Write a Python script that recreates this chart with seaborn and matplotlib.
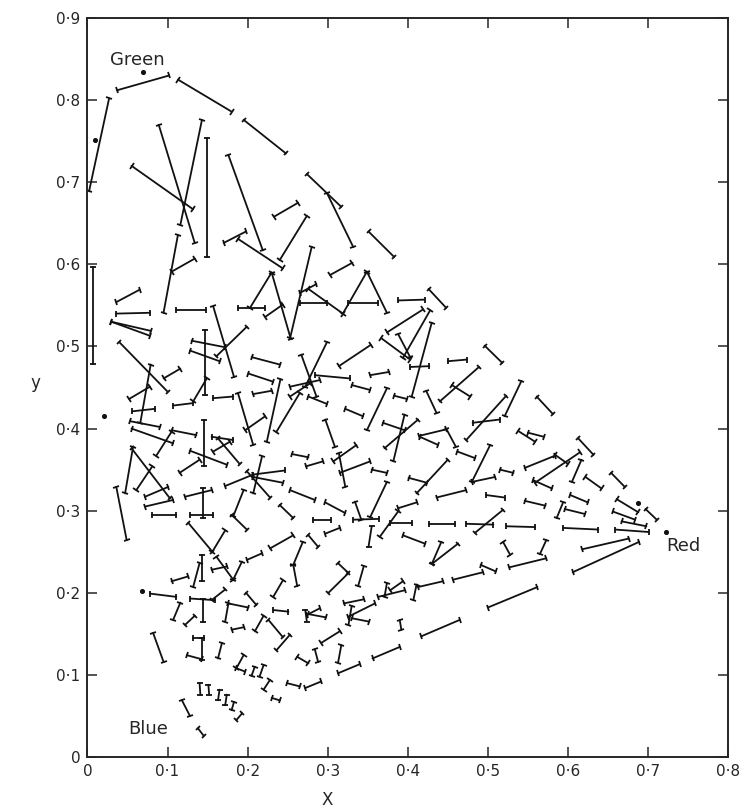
import numpy as np
import pandas as pd
import matplotlib
matplotlib.use("Agg")
import matplotlib.pyplot as plt
from matplotlib.markers import MarkerStyle
from matplotlib.transforms import Affine2D
from matplotlib.ticker import FuncFormatter
import seaborn as sns

# segment end points, chromaticity (x, y)
x_start = [0.037, 0.113, 0.195, 0.002, 0.055, 0.089, 0.143, 0.149, 0.176, 0.233,
           0.240, 0.170, 0.188, 0.095, 0.105, 0.274, 0.299, 0.351, 0.280, 0.303,
           0.007, 0.036, 0.036, 0.030, 0.030, 0.040, 0.111, 0.157, 0.188, 0.203,
           0.230, 0.222, 0.147, 0.130, 0.128, 0.161, 0.132, 0.107, 0.095, 0.052,
           0.079, 0.056, 0.053, 0.157, 0.188, 0.205, 0.201, 0.207, 0.241, 0.197,
           0.236, 0.055, 0.105, 0.105, 0.145, 0.128, 0.115, 0.155, 0.157, 0.163,
           0.057, 0.055, 0.081, 0.072, 0.072, 0.036, 0.122, 0.144, 0.080, 0.128,
           0.172, 0.207, 0.199, 0.218, 0.207, 0.195, 0.240, 0.265, 0.265, 0.276,
           0.319, 0.349, 0.326, 0.388, 0.426, 0.374, 0.367, 0.388, 0.428, 0.430,
           0.403, 0.314, 0.353, 0.450, 0.496, 0.267, 0.299, 0.284, 0.253, 0.276,
           0.330, 0.374, 0.383, 0.423, 0.440, 0.455, 0.322, 0.297, 0.369, 0.396,
           0.413, 0.414, 0.448, 0.415, 0.473, 0.481, 0.255, 0.273, 0.307, 0.315,
           0.314, 0.355, 0.462, 0.503, 0.480, 0.401, 0.411, 0.436, 0.498, 0.253,
           0.297, 0.334, 0.353, 0.388, 0.542, 0.561, 0.538, 0.550, 0.613, 0.546,
           0.584, 0.615, 0.557, 0.617, 0.622, 0.654, 0.515, 0.546, 0.603, 0.594,
           0.596, 0.661, 0.697, 0.656, 0.667, 0.659, 0.523, 0.594, 0.519, 0.573,
           0.527, 0.618, 0.606, 0.500, 0.282, 0.332, 0.388, 0.378, 0.426, 0.473,
           0.484, 0.297, 0.276, 0.269, 0.257, 0.355, 0.394, 0.442, 0.430, 0.491,
           0.313, 0.326, 0.345, 0.320, 0.330, 0.326, 0.330, 0.363, 0.374, 0.378,
           0.411, 0.413, 0.457, 0.272, 0.276, 0.274, 0.390, 0.417, 0.292, 0.356,
           0.284, 0.317, 0.313, 0.262, 0.272, 0.126, 0.156, 0.180, 0.228, 0.143,
           0.140, 0.155, 0.161, 0.182, 0.199, 0.105, 0.078, 0.128, 0.144, 0.172,
           0.116, 0.122, 0.176, 0.176, 0.198, 0.180, 0.220, 0.226, 0.232, 0.253,
           0.244, 0.082, 0.132, 0.143, 0.124, 0.168, 0.195, 0.186, 0.209, 0.220,
           0.228, 0.230, 0.140, 0.151, 0.165, 0.174, 0.183, 0.193, 0.118, 0.138,
           0.249, 0.278]
y_start = [0.812, 0.825, 0.776, 0.689, 0.720, 0.770, 0.776, 0.754, 0.733, 0.658,
           0.605, 0.626, 0.631, 0.541, 0.591, 0.710, 0.687, 0.640, 0.621, 0.587,
           0.597, 0.554, 0.540, 0.530, 0.530, 0.505, 0.544, 0.549, 0.547, 0.547,
           0.590, 0.536, 0.520, 0.507, 0.495, 0.488, 0.433, 0.428, 0.461, 0.436,
           0.478, 0.421, 0.409, 0.437, 0.443, 0.487, 0.467, 0.442, 0.460, 0.398,
           0.396, 0.400, 0.398, 0.396, 0.410, 0.373, 0.346, 0.390, 0.372, 0.388,
           0.378, 0.376, 0.354, 0.317, 0.305, 0.329, 0.317, 0.327, 0.295, 0.295,
           0.330, 0.344, 0.348, 0.366, 0.341, 0.325, 0.307, 0.565, 0.553, 0.570,
           0.540, 0.591, 0.553, 0.556, 0.570, 0.517, 0.510, 0.515, 0.544, 0.529,
           0.475, 0.476, 0.465, 0.482, 0.501, 0.490, 0.505, 0.465, 0.451, 0.439,
           0.453, 0.449, 0.440, 0.446, 0.433, 0.453, 0.424, 0.411, 0.407, 0.417,
           0.411, 0.391, 0.400, 0.390, 0.386, 0.407, 0.369, 0.354, 0.360, 0.346,
           0.370, 0.350, 0.372, 0.380, 0.335, 0.340, 0.321, 0.316, 0.319, 0.325,
           0.310, 0.311, 0.292, 0.303, 0.458, 0.439, 0.397, 0.395, 0.388, 0.352,
           0.368, 0.371, 0.337, 0.362, 0.341, 0.346, 0.350, 0.312, 0.319, 0.310,
           0.302, 0.314, 0.302, 0.299, 0.287, 0.277, 0.281, 0.279, 0.262, 0.264,
           0.231, 0.253, 0.225, 0.182, 0.289, 0.289, 0.299, 0.285, 0.284, 0.284,
           0.273, 0.272, 0.270, 0.262, 0.234, 0.281, 0.270, 0.262, 0.235, 0.234,
           0.236, 0.224, 0.232, 0.187, 0.184, 0.171, 0.169, 0.195, 0.212, 0.203,
           0.210, 0.207, 0.216, 0.179, 0.174, 0.173, 0.167, 0.147, 0.139, 0.120,
           0.131, 0.136, 0.102, 0.122, 0.084, 0.285, 0.250, 0.295, 0.254, 0.246,
           0.236, 0.228, 0.244, 0.216, 0.240, 0.214, 0.199, 0.193, 0.193, 0.204,
           0.188, 0.161, 0.187, 0.187, 0.200, 0.155, 0.172, 0.167, 0.179, 0.149,
           0.215, 0.151, 0.145, 0.145, 0.124, 0.139, 0.124, 0.108, 0.110, 0.112,
           0.094, 0.072, 0.090, 0.088, 0.082, 0.076, 0.067, 0.053, 0.069, 0.035,
           0.090, 0.455]
x_end = [0.102, 0.180, 0.248, 0.027, 0.132, 0.134, 0.116, 0.149, 0.219, 0.263,
         0.274, 0.198, 0.244, 0.113, 0.134, 0.317, 0.332, 0.383, 0.253, 0.331,
         0.007, 0.065, 0.078, 0.079, 0.078, 0.100, 0.148, 0.183, 0.222, 0.230,
         0.254, 0.244, 0.147, 0.172, 0.165, 0.199, 0.149, 0.132, 0.116, 0.078,
         0.066, 0.084, 0.090, 0.182, 0.207, 0.240, 0.232, 0.230, 0.224, 0.222,
         0.265, 0.107, 0.136, 0.086, 0.145, 0.174, 0.140, 0.182, 0.178, 0.190,
         0.047, 0.103, 0.061, 0.101, 0.107, 0.049, 0.155, 0.144, 0.110, 0.157,
         0.207, 0.247, 0.228, 0.207, 0.244, 0.182, 0.257, 0.286, 0.299, 0.319,
         0.349, 0.374, 0.363, 0.421, 0.448, 0.419, 0.403, 0.403, 0.394, 0.405,
         0.427, 0.354, 0.377, 0.474, 0.518, 0.286, 0.272, 0.328, 0.290, 0.299,
         0.353, 0.349, 0.399, 0.436, 0.489, 0.478, 0.344, 0.309, 0.396, 0.382,
         0.371, 0.448, 0.460, 0.438, 0.523, 0.515, 0.276, 0.294, 0.336, 0.353,
         0.322, 0.374, 0.484, 0.480, 0.509, 0.424, 0.450, 0.473, 0.521, 0.284,
         0.322, 0.342, 0.374, 0.411, 0.521, 0.581, 0.559, 0.570, 0.632, 0.584,
         0.600, 0.559, 0.580, 0.605, 0.642, 0.671, 0.532, 0.572, 0.625, 0.586,
         0.621, 0.688, 0.711, 0.684, 0.698, 0.701, 0.559, 0.638, 0.528, 0.565,
         0.573, 0.676, 0.689, 0.562, 0.304, 0.364, 0.365, 0.405, 0.459, 0.507,
         0.519, 0.315, 0.288, 0.257, 0.262, 0.351, 0.421, 0.430, 0.463, 0.510,
         0.326, 0.301, 0.338, 0.345, 0.326, 0.359, 0.351, 0.396, 0.371, 0.394,
         0.407, 0.444, 0.494, 0.274, 0.298, 0.290, 0.392, 0.465, 0.315, 0.390,
         0.288, 0.313, 0.340, 0.276, 0.292, 0.156, 0.172, 0.199, 0.257, 0.143,
         0.132, 0.174, 0.182, 0.193, 0.218, 0.126, 0.111, 0.159, 0.144, 0.155,
         0.107, 0.134, 0.172, 0.201, 0.211, 0.195, 0.209, 0.244, 0.251, 0.236,
         0.232, 0.095, 0.145, 0.143, 0.143, 0.163, 0.186, 0.197, 0.205, 0.215,
         0.220, 0.240, 0.141, 0.152, 0.163, 0.172, 0.180, 0.186, 0.128, 0.145,
         0.265, 0.253]
y_end = [0.830, 0.786, 0.735, 0.802, 0.667, 0.626, 0.648, 0.609, 0.617, 0.675,
         0.659, 0.640, 0.595, 0.636, 0.607, 0.670, 0.621, 0.609, 0.510, 0.602,
         0.479, 0.569, 0.541, 0.519, 0.513, 0.445, 0.544, 0.463, 0.547, 0.590,
         0.509, 0.551, 0.441, 0.499, 0.482, 0.524, 0.461, 0.431, 0.473, 0.451,
         0.407, 0.424, 0.402, 0.439, 0.380, 0.478, 0.457, 0.446, 0.384, 0.415,
         0.443, 0.382, 0.392, 0.367, 0.354, 0.356, 0.362, 0.386, 0.384, 0.357,
         0.321, 0.315, 0.325, 0.329, 0.313, 0.264, 0.325, 0.291, 0.295, 0.295,
         0.344, 0.349, 0.316, 0.321, 0.334, 0.293, 0.291, 0.576, 0.553, 0.540,
         0.591, 0.541, 0.553, 0.557, 0.547, 0.545, 0.484, 0.487, 0.486, 0.439,
         0.476, 0.502, 0.469, 0.484, 0.480, 0.439, 0.451, 0.461, 0.459, 0.430,
         0.447, 0.398, 0.436, 0.419, 0.475, 0.439, 0.415, 0.378, 0.398, 0.360,
         0.376, 0.399, 0.378, 0.380, 0.440, 0.411, 0.365, 0.360, 0.380, 0.360,
         0.329, 0.346, 0.364, 0.335, 0.341, 0.334, 0.362, 0.325, 0.316, 0.313,
         0.297, 0.289, 0.335, 0.310, 0.415, 0.418, 0.384, 0.390, 0.368, 0.367,
         0.357, 0.334, 0.327, 0.335, 0.327, 0.329, 0.346, 0.306, 0.310, 0.291,
         0.296, 0.298, 0.289, 0.289, 0.281, 0.274, 0.280, 0.277, 0.246, 0.247,
         0.242, 0.266, 0.262, 0.207, 0.289, 0.290, 0.268, 0.285, 0.284, 0.283,
         0.301, 0.279, 0.256, 0.234, 0.208, 0.256, 0.260, 0.235, 0.260, 0.226,
         0.224, 0.200, 0.208, 0.192, 0.161, 0.187, 0.165, 0.203, 0.195, 0.214,
         0.191, 0.214, 0.225, 0.165, 0.170, 0.181, 0.155, 0.167, 0.153, 0.134,
         0.116, 0.115, 0.113, 0.114, 0.092, 0.250, 0.276, 0.277, 0.270, 0.214,
         0.207, 0.232, 0.216, 0.238, 0.248, 0.220, 0.195, 0.191, 0.165, 0.191,
         0.167, 0.172, 0.165, 0.182, 0.185, 0.158, 0.153, 0.146, 0.177, 0.130,
         0.195, 0.116, 0.145, 0.118, 0.119, 0.120, 0.108, 0.104, 0.099, 0.098,
         0.082, 0.069, 0.076, 0.076, 0.069, 0.063, 0.057, 0.045, 0.050, 0.026,
         0.086, 0.439]

# isolated points (spectrum ends and odd dots)
dot_x = [0.009, 0.069, 0.021, 0.068, 0.688, 0.722]
dot_y = [0.752, 0.834, 0.415, 0.202, 0.309, 0.274]

ticks_x = [0.0, 0.1, 0.2, 0.3, 0.4, 0.5, 0.6, 0.7, 0.8]
ticks_y = [0.0, 0.1, 0.2, 0.3, 0.4, 0.5, 0.6, 0.7, 0.8, 0.9]

sns.set_style("ticks")
plt.rcParams["font.family"] = ["DejaVu Sans"]

n = len(x_start)
df = pd.DataFrame({
    "seg": np.repeat(np.arange(n), 2),
    "x": np.ravel(np.column_stack([x_start, x_end])),
    "y": np.ravel(np.column_stack([y_start, y_end])),
})

fig = plt.figure(figsize=(7.45, 8.11), dpi=100)
ax = fig.add_axes([0.1174, 0.0666, 0.8598, 0.9112])
ax.set_xlim(0, 0.8)
ax.set_ylim(0, 0.9)

sns.lineplot(data=df, x="x", y="y", units="seg", estimator=None, sort=False,
             color="#111111", linewidth=1.3, legend=False, ax=ax)

# end caps perpendicular to each segment
sx = ax.bbox.width / 0.8
sy = ax.bbox.height / 0.9
for x0, y0, x1, y1 in zip(x_start, y_start, x_end, y_end):
    ang = np.degrees(np.arctan2((y1 - y0) * sy, (x1 - x0) * sx))
    m = MarkerStyle("|", transform=Affine2D().rotate_deg(ang))
    ax.plot([x0, x1], [y0, y1], ls="none", marker=m, markersize=4.5,
            markeredgewidth=1.3, color="#111111")

ax.scatter(dot_x, dot_y, s=7, color="#111111", zorder=3)

ax.text(0.028, 0.849, "Green", fontsize=13, va="center", ha="left")
ax.text(0.723, 0.257, "Red", fontsize=13, va="center", ha="left")
ax.text(0.051, 0.034, "Blue", fontsize=13, va="center", ha="left")

fmt = FuncFormatter(lambda v, p: "0" if abs(v) < 1e-9 else ("0·%d" % round(v * 10)))
ax.set_xticks(ticks_x)
ax.set_yticks(ticks_y)
ax.xaxis.set_major_formatter(fmt)
ax.yaxis.set_major_formatter(fmt)
ax.tick_params(direction="in", length=7, width=1.1, top=True, right=True,
               labelsize=11, pad=5)
for s in ax.spines.values():
    s.set_linewidth(1.4)
    s.set_visible(True)

ax.set_xlabel("X", fontsize=12, va="center")
ax.xaxis.set_label_coords(0.375, -0.058)
ax.set_ylabel("y", fontsize=12, rotation=0, va="center")
ax.yaxis.set_label_coords(-0.082, 0.506)

fig.savefig("out.png", dpi=100)
